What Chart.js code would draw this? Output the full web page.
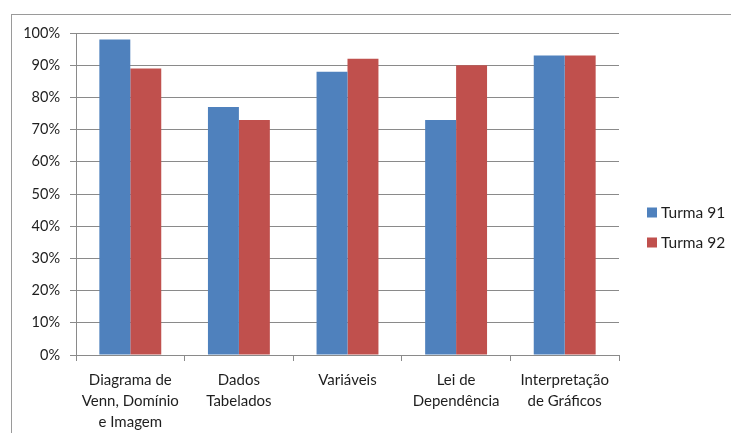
<!DOCTYPE html>
<html>
<head>
<meta charset="utf-8">
<script src="https://cdn.jsdelivr.net/npm/chart.js@4/dist/chart.umd.min.js"></script>
<style>
  html, body { margin: 0; padding: 0; background: #fff; }
  #wrap { width: 731px; height: 433px; position: relative; }
</style>
</head>
<body>
<div id="wrap"><canvas id="c" width="731" height="433"></canvas></div>
<script>
// Topics assessed (multi-line axis labels)
const categories = [
  ["Diagrama de", "Venn, Domínio", "e Imagem"],
  ["Dados", "Tabelados"],
  ["Variáveis"],
  ["Lei de", "Dependência"],
  ["Interpretação", "de Gráficos"]
];
// Share of correct answers per class (%)
const turma91 = [98, 77, 88, 73, 93];
const turma92 = [89, 73, 92, 90, 93];
const seriesNames = ["Turma 91", "Turma 92"];
const seriesColors = ["#4F81BD", "#C0504D"];

const FONT = "Lato, 'Open Sans', sans-serif";
const GRID = "#8a8a8a";
const TEXT = "#1e1e1e";

// Outer frame around the whole chart
const framePlugin = {
  id: "frame",
  beforeDraw(chart) {
    const ctx = chart.ctx;
    ctx.save();
    ctx.fillStyle = "#fff";
    ctx.fillRect(0, 0, chart.width, chart.height);
    ctx.strokeStyle = "#9a9a9a";
    ctx.lineWidth = 1;
    ctx.strokeRect(11.5, 14.5, 900, 600);
    ctx.restore();
  }
};

// Vertical legend to the right of the plot
const sideLegend = {
  id: "sideLegend",
  afterDraw(chart) {
    const ctx = chart.ctx;
    ctx.save();
    ctx.font = "15.5px " + FONT;
    ctx.textBaseline = "middle";
    chart.data.datasets.forEach((ds, i) => {
      const y = 212.5 + i * 30;
      ctx.fillStyle = ds.backgroundColor;
      ctx.fillRect(647, y - 5, 10, 10);
      ctx.fillStyle = TEXT;
      ctx.fillText(ds.label, 661, y);
    });
    ctx.restore();
  }
};

new Chart(document.getElementById("c"), {
  type: "bar",
  data: {
    labels: categories,
    datasets: [
      { label: seriesNames[0], data: turma91, backgroundColor: seriesColors[0] },
      { label: seriesNames[1], data: turma92, backgroundColor: seriesColors[1] }
    ]
  },
  options: {
    responsive: false,
    animation: false,
    devicePixelRatio: 1,
    layout: { padding: { left: 0, right: 112, top: 33, bottom: 0 } },
    datasets: { bar: { categoryPercentage: 0.57, barPercentage: 1.0 } },
    plugins: { legend: { display: false }, tooltip: { enabled: false } },
    scales: {
      x: {
        afterFit(scale) { scale.height = 78; },
        grid: { offset: true, drawOnChartArea: false, drawTicks: true, tickLength: 6, color: GRID },
        border: { display: true, color: GRID },
        ticks: {
          color: TEXT,
          padding: 9,
          maxRotation: 0,
          autoSkip: false,
          font: { family: FONT, size: 15, lineHeight: 1.38 }
        }
      },
      y: {
        min: 0,
        max: 100,
        afterFit(scale) { scale.width = 76; },
        grid: { color: GRID, drawTicks: true, tickLength: 6 },
        border: { display: true, color: GRID },
        ticks: {
          stepSize: 10,
          color: TEXT,
          padding: 10,
          font: { family: FONT, size: 14.5 },
          callback: v => v + "%"
        }
      }
    }
  },
  plugins: [framePlugin, sideLegend]
});
</script>
</body>
</html>
